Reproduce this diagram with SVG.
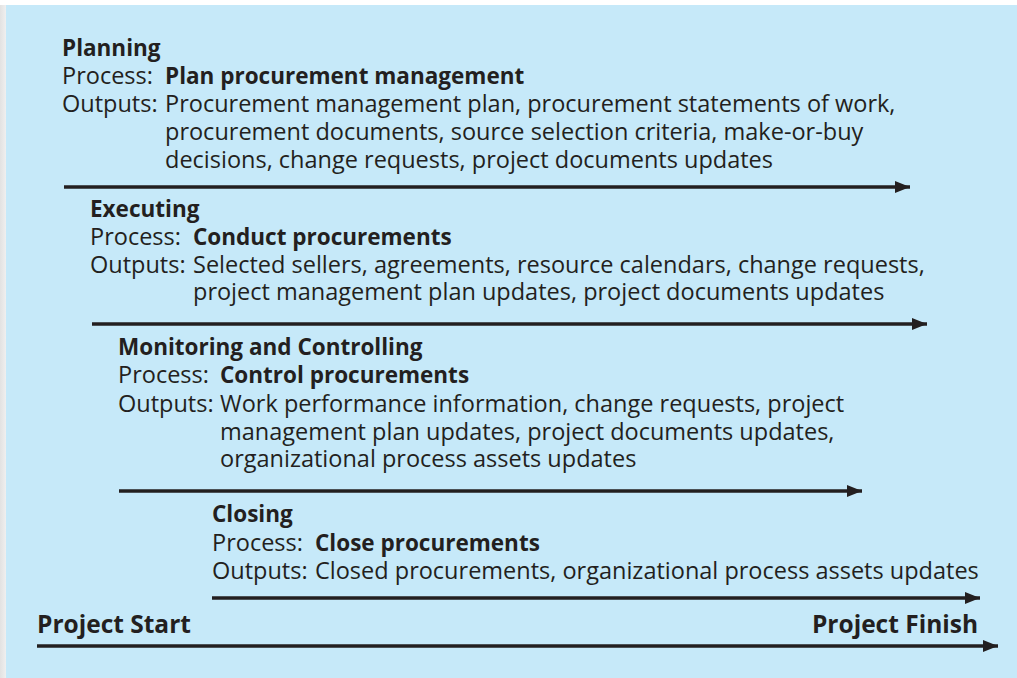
<svg xmlns="http://www.w3.org/2000/svg" width="1017" height="678" viewBox="0 0 1017 678">
<defs>
<linearGradient id="edge" x1="0" y1="0" x2="1" y2="0">
<stop offset="0" stop-color="#e2e2e2"/>
<stop offset="1" stop-color="#f2f2f2"/>
</linearGradient>
<marker id="arr" markerUnits="userSpaceOnUse" markerWidth="16" markerHeight="12" refX="15" refY="6" orient="auto">
<path d="M0,0 L15,6 L0,12 Z" fill="#231f20"/>
</marker>
<style>
text{font-family:"Open Sans","Noto Sans","Liberation Sans",sans-serif;font-size:23.5px;fill:#231f20}
.b{font-weight:bold;font-size:22.5px}
.p{font-weight:bold;font-size:24.5px}
.ln{stroke:#231f20;stroke-width:3.6;fill:none;marker-end:url(#arr)}
</style>
</defs>
<rect x="0" y="0" width="1017" height="678" fill="#ffffff"/>
<rect x="0" y="5" width="7" height="673" fill="url(#edge)"/>
<rect x="6" y="5" width="1011" height="673" fill="#c6e9f9"/>
<g id="connectors">
<line class="ln" x1="64" y1="187" x2="910" y2="187"/>
<line class="ln" x1="92" y1="324" x2="927" y2="324"/>
<line class="ln" x1="119" y1="491" x2="862" y2="491"/>
<line class="ln" x1="212" y1="598" x2="980" y2="598"/>
<line class="ln" x1="37" y1="646" x2="998" y2="646"/>
</g>
<g id="planning">
<text><tspan x="62" y="56" class="b">Planning</tspan><tspan x="62" y="84">Process:</tspan><tspan x="165" y="84" class="b">Plan procurement management</tspan><tspan x="62" y="112">Outputs:</tspan><tspan x="165" y="112">Procurement management plan, procurement statements of work,</tspan><tspan x="165" y="140">procurement documents, source selection criteria, make-or-buy</tspan><tspan x="165" y="168">decisions, change requests, project documents updates</tspan></text>
</g>
<g id="executing">
<text><tspan x="90" y="217" class="b">Executing</tspan><tspan x="90" y="245">Process:</tspan><tspan x="193" y="245" class="b">Conduct procurements</tspan><tspan x="90" y="273">Outputs:</tspan><tspan x="193" y="273">Selected sellers, agreements, resource calendars, change requests,</tspan><tspan x="193" y="300">project management plan updates, project documents updates</tspan></text>
</g>
<g id="monitoring">
<text><tspan x="118" y="355" class="b">Monitoring and Controlling</tspan><tspan x="118" y="383">Process:</tspan><tspan x="220" y="383" class="b">Control procurements</tspan><tspan x="118" y="412">Outputs:</tspan><tspan x="220" y="412">Work performance information, change requests, project</tspan><tspan x="220" y="440">management plan updates, project documents updates,</tspan><tspan x="220" y="467">organizational process assets updates</tspan></text>
</g>
<g id="closing">
<text><tspan x="212" y="522" class="b">Closing</tspan><tspan x="212" y="551">Process:</tspan><tspan x="315" y="551" class="b">Close procurements</tspan><tspan x="212" y="579">Outputs:</tspan><tspan x="315" y="579">Closed procurements, organizational process assets updates</tspan></text>
</g>
<g id="project-start">
<text x="37" y="633" class="p">Project Start</text>
</g>
<g id="project-finish">
<text x="978" y="633" class="p" text-anchor="end">Project Finish</text>
</g>
</svg>
